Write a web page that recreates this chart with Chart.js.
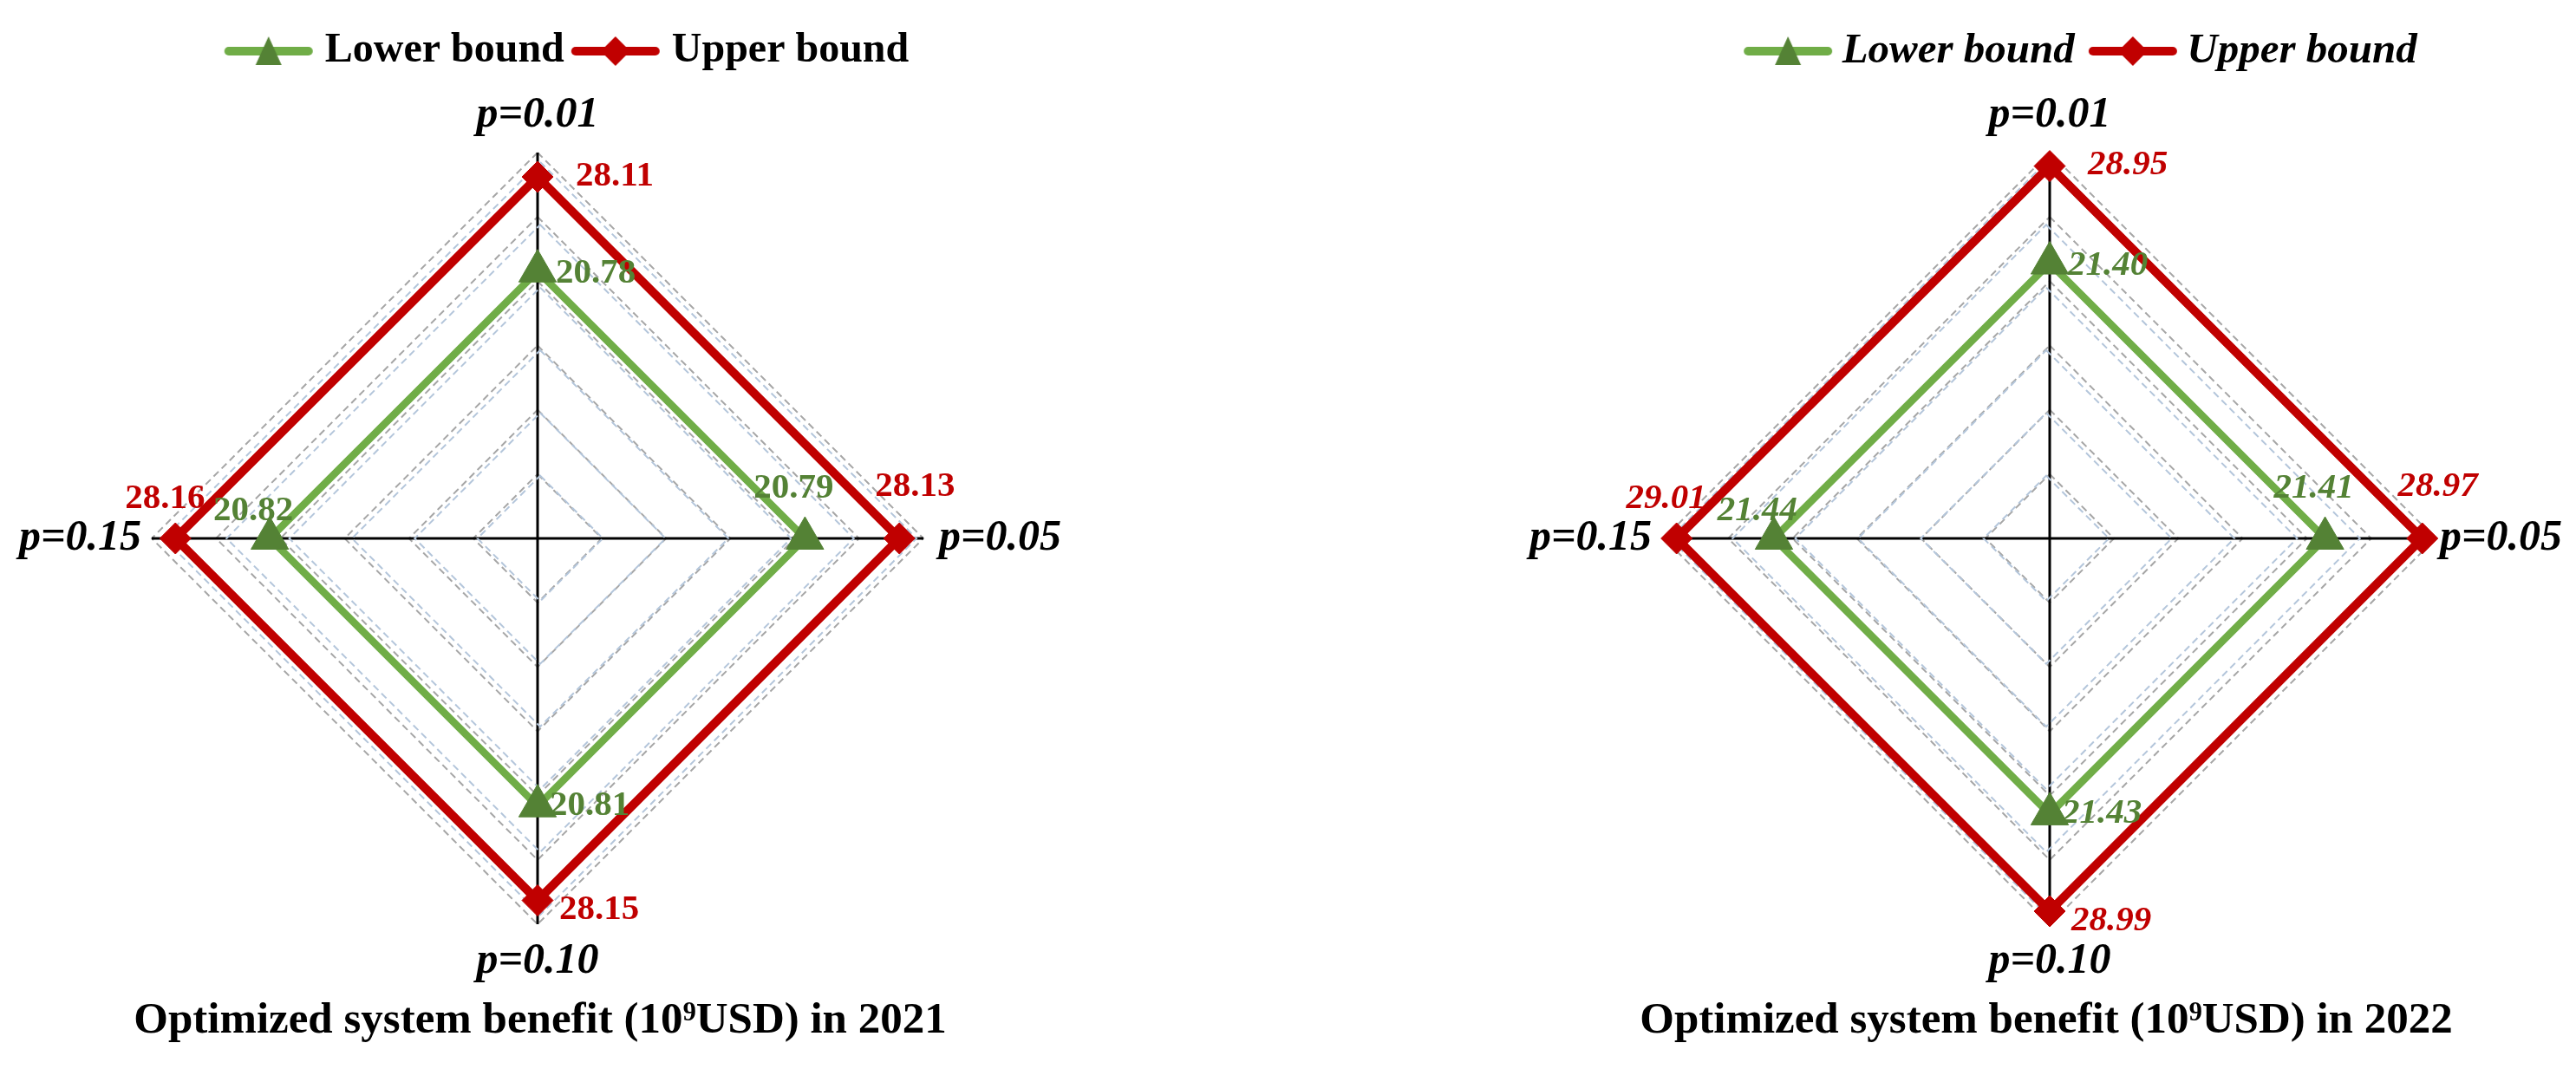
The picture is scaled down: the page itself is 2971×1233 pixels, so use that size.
<!DOCTYPE html>
<html>
<head>
<meta charset="utf-8">
<script src="https://cdn.jsdelivr.net/npm/chart.js@4.4.0/dist/chart.umd.min.js"></script>
<style>
html, body { margin: 0; padding: 0; background: #fff; overflow: hidden; }
#wrap { position: relative; width: 2971px; height: 1233px; overflow: hidden; }
.box { position: absolute; top: 0; height: 1233px; }
</style>
</head>
<body>
<div id="wrap">
  <div class="box" style="left:0;width:1317px"><canvas id="c2021"></canvas></div>
  <div class="box" style="left:1744px;width:1324px"><canvas id="c2022"></canvas></div>
</div>
<script>
// data
const axisLabels = ['p=0.01', 'p=0.05', 'p=0.10', 'p=0.15'];
const seriesNames = ['Lower bound', 'Upper bound'];
const lower2021 = [20.78, 20.79, 20.81, 20.82];
const upper2021 = [28.11, 28.13, 28.15, 28.16];
const lower2022 = [21.40, 21.41, 21.43, 21.44];
const upper2022 = [28.95, 28.97, 28.99, 29.01];
const scaleMin = 0, scaleMax = 30, scaleStep = 5;
const titles = ['Optimized system benefit (10\u2079USD) in 2021',
                'Optimized system benefit (10\u2079USD) in 2022'];

const FONT = "'Liberation Serif', 'Times New Roman', serif";
const RED = '#C00000', GREEN = '#70AD47', DKGREEN = '#548235';
const GREY = '#A6A6A6', BLUEGRID = '#B4C6DB';
Chart.defaults.font.family = FONT;

// legend icon: line with the marker in the middle (like the Excel legend)
function legendIcon(kind) {
  const c = document.createElement('canvas');
  c.width = 104; c.height = 44;
  const g = c.getContext('2d');
  g.lineCap = 'round';
  g.lineWidth = 10;
  g.strokeStyle = kind == 'tri' ? GREEN : RED;
  g.beginPath(); g.moveTo(6, 22); g.lineTo(98, 22); g.stroke();
  g.fillStyle = kind == 'tri' ? DKGREEN : RED;
  g.beginPath();
  if (kind == 'tri') { g.moveTo(52, 5); g.lineTo(67, 38); g.lineTo(37, 38); }
  else { g.moveTo(52, 5); g.lineTo(69, 22); g.lineTo(52, 39); g.lineTo(35, 22); }
  g.closePath(); g.fill();
  return c;
}
const icons = [legendIcon('tri'), legendIcon('dia')];

// empty box on the right so the legend sits off-centre like the original, plus a gap under the legend
const sideGap = {
  id: 'sideGap',
  beforeInit(chart, args, opts) {
    Chart.layouts.addBox(chart, {
      position: 'right', weight: 0, fullSize: false, width: 0, height: 0, options: {},
      update(maxWidth, maxHeight) { this.width = opts.width; this.height = maxHeight; },
      getPadding() { return { left: 0, top: 0, right: 0, bottom: 0 }; },
      isHorizontal() { return false; },
      draw() {}
    });
    const fit = chart.legend.fit;
    chart.legend.fit = function () { fit.call(this); this.height += opts.legendGap; };
  }
};

// value labels next to each point
const valueLabels = {
  id: 'valueLabels',
  afterDatasetsDraw(chart, args, opts) {
    const ctx = chart.ctx;
    ctx.save();
    ctx.font = opts.font;
    ctx.textBaseline = 'middle';
    chart.data.datasets.forEach((ds, i) => {
      chart.getDatasetMeta(i).data.forEach((pt, j) => {
        const [dx, dy, align] = opts.offsets[i][j];
        ctx.fillStyle = ds.labelColor;
        ctx.textAlign = align;
        ctx.fillText(ds.data[j].toFixed(2), pt.x + dx, pt.y + dy);
      });
    });
    ctx.restore();
  }
};

const labelOffsets = [
  [[21, 3, 'left'], [-13, -58, 'center'], [14, 0, 'left'], [-19, -32, 'center']],
  [[44, -1, 'left'], [18, -60, 'center'], [25, 11, 'left'], [-12, -46, 'center']]
];

function makeChart(id, lower, upper, title, italic, lay) {
  const style = italic ? 'italic' : 'normal';
  return new Chart(document.getElementById(id), {
    type: 'radar',
    data: {
      labels: axisLabels,
      datasets: [
        { label: seriesNames[0], data: lower, borderColor: GREEN, borderWidth: 8.5,
          pointStyle: 'triangle', pointRadius: 25, pointBackgroundColor: DKGREEN,
          pointBorderColor: DKGREEN, pointBorderWidth: 1, labelColor: DKGREEN, fill: false },
        { label: seriesNames[1], data: upper, borderColor: RED, borderWidth: 10,
          pointStyle: 'rectRot', pointRadius: 18, pointBackgroundColor: RED,
          pointBorderColor: RED, pointBorderWidth: 1, labelColor: RED, fill: false }
      ]
    },
    options: {
      responsive: true,
      maintainAspectRatio: false,
      animation: false,
      layout: { padding: { top: lay.top, left: 0, right: 0, bottom: 0 } },
      elements: { line: { tension: 0, borderJoinStyle: 'miter' } },
      scales: {
        r: {
          min: scaleMin, max: scaleMax,
          ticks: { stepSize: scaleStep, display: false },
          grid: { color: GREY, lineWidth: 2 },
          border: { dash: [8, 5] },
          angleLines: { color: '#000', lineWidth: 3 },
          pointLabels: {
            color: '#000',
            font: { size: 50, weight: 'bold', style: 'italic', lineHeight: 1.2 },
            padding: (c) => lay.pads[c.index]
          }
        },
        // second, slightly smaller set of blue dashed rings (the original has two overlapping grids)
        r2: {
          type: 'radialLinear', axis: 'r',
          min: scaleMin, max: 35.8,
          ticks: { stepSize: scaleStep, display: false },
          grid: { color: (c) => c.tick.value <= scaleMax ? BLUEGRID : 'rgba(0,0,0,0)', lineWidth: 2 },
          border: { dash: [8, 5] },
          angleLines: { display: false },
          pointLabels: { display: false }
        }
      },
      plugins: {
        legend: {
          position: 'top',
          align: 'center',
          labels: {
            usePointStyle: true,
            pointStyleWidth: lay.B,
            padding: lay.p,
            color: '#000',
            font: { size: lay.legendSize, weight: 'bold', style: style },
            generateLabels(chart) {
              const items = Chart.defaults.plugins.legend.labels.generateLabels(chart);
              items.forEach((it, i) => { it.pointStyle = icons[i]; });
              return items;
            }
          }
        },
        title: {
          display: true, position: 'bottom', fullSize: false,
          text: title, color: '#000',
          font: { size: 51, weight: 'bold', lineHeight: 1.2 },
          padding: { top: 8, bottom: 24.8 }
        },
        tooltip: { enabled: false },
        sideGap: { width: lay.gap, legendGap: lay.legendGap },
        valueLabels: { font: style + ' bold 41px ' + FONT, offsets: labelOffsets }
      }
    },
    plugins: [sideGap, valueLabels]
  });
}

makeChart('c2021', lower2021, upper2021, titles[0], false,
  { top: 17, p: 18, B: 82, legendSize: 48, legendGap: 10, gap: 71, pads: [13, 18, 13, 12] });
makeChart('c2022', lower2022, upper2022, titles[1], true,
  { top: 5.5, p: 29, B: 76, legendSize: 49, legendGap: 9.5, gap: 92, pads: [13, 5, 13, 14] });
</script>
</body>
</html>
